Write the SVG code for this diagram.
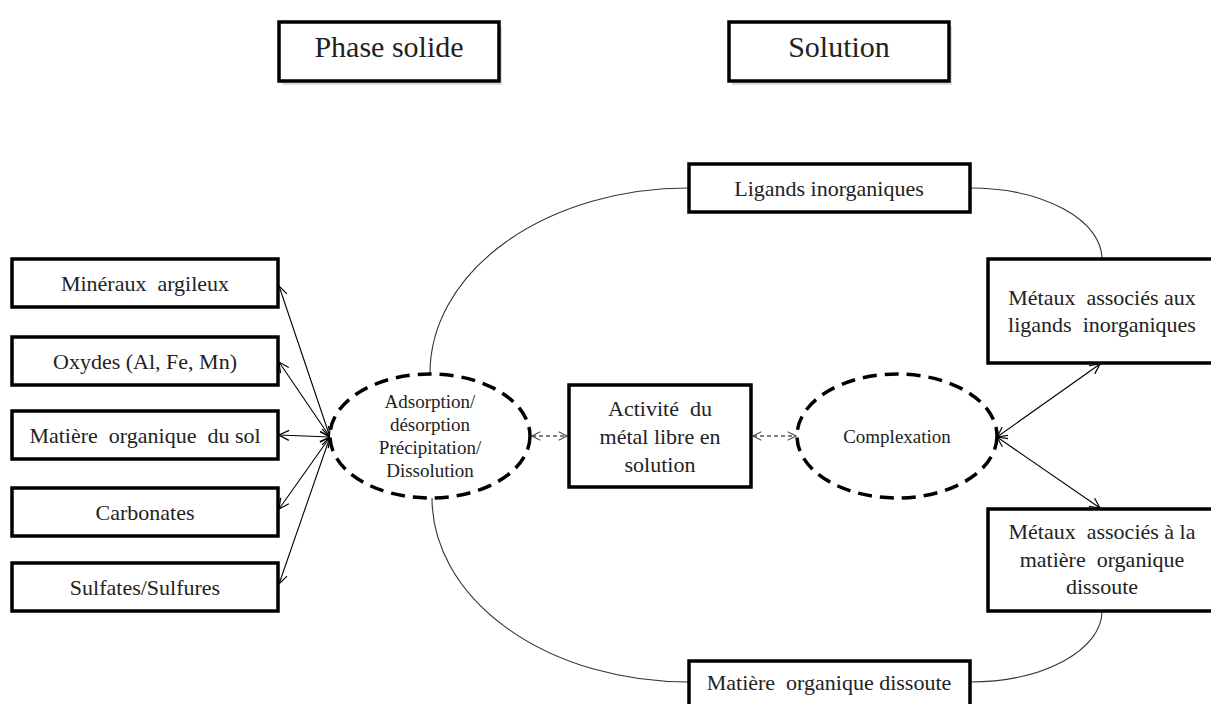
<svg xmlns="http://www.w3.org/2000/svg" width="1211" height="704" viewBox="0 0 1211 704">
<defs>
<style>
.box{fill:#fff;stroke:#000;stroke-width:3.5}
.shadow{fill:#bbb;opacity:0.5}
.ell{fill:#fff;stroke:#000;stroke-width:3.5;stroke-dasharray:14 8}
.t{font-family:"Liberation Serif","Times New Roman",serif;fill:#222;text-anchor:middle;white-space:pre}
.h{font-size:30px}
.b{font-size:22px}
.s{font-size:19px}
.link{fill:none;stroke:#000;stroke-width:1.1}
.curve{fill:none;stroke:#333;stroke-width:1.1}
.dash{fill:none;stroke:#555;stroke-width:1.3;stroke-dasharray:4 3}
</style>
<marker id="ah" viewBox="0 0 12 12" refX="11" refY="6" markerWidth="12" markerHeight="12" markerUnits="userSpaceOnUse" orient="auto-start-reverse">
<path d="M1,1 L11,6 L1,11" fill="none" stroke="#000" stroke-width="1.2"/>
</marker>
<marker id="ahg" viewBox="0 0 12 12" refX="11" refY="6" markerWidth="10" markerHeight="10" markerUnits="userSpaceOnUse" orient="auto-start-reverse">
<path d="M1,1 L11,6 L1,11" fill="none" stroke="#555" stroke-width="1.4"/>
</marker>
</defs>
<rect width="1211" height="704" fill="#fff"/>

<g id="connectors">
<path class="curve" d="M430,373 A258,185 0 0 1 688,188"/>
<path class="curve" d="M970,188 A132,71 0 0 1 1102,259"/>
<path class="curve" d="M432,498 A256,184 0 0 0 688,682"/>
<path class="curve" d="M1102,611 A132,71 0 0 1 970,682"/>
<line class="link" x1="330" y1="437" x2="279" y2="286" marker-start="url(#ah)" marker-end="url(#ah)"/>
<line class="link" x1="330" y1="437" x2="279" y2="362" marker-start="url(#ah)" marker-end="url(#ah)"/>
<line class="link" x1="330" y1="437" x2="279" y2="435" marker-start="url(#ah)" marker-end="url(#ah)"/>
<line class="link" x1="330" y1="437" x2="279" y2="509" marker-start="url(#ah)" marker-end="url(#ah)"/>
<line class="link" x1="330" y1="437" x2="279" y2="584" marker-start="url(#ah)" marker-end="url(#ah)"/>
<line class="link" x1="997" y1="437" x2="1100" y2="364" marker-start="url(#ah)" marker-end="url(#ah)"/>
<line class="link" x1="997" y1="437" x2="1100" y2="508" marker-start="url(#ah)" marker-end="url(#ah)"/>
<line class="dash" x1="532" y1="436" x2="567" y2="436" marker-start="url(#ahg)" marker-end="url(#ahg)"/>
<line class="dash" x1="753" y1="436" x2="796" y2="436" marker-start="url(#ahg)" marker-end="url(#ahg)"/>
</g>

<g id="phase-solide">
<rect class="shadow" x="282" y="26" width="220" height="59"/>
<rect class="box" x="279" y="22" width="220" height="59"/>
<text class="t h" x="389" y="57">Phase solide</text>
</g>
<g id="solution">
<rect class="shadow" x="732" y="26" width="220" height="59"/>
<rect class="box" x="729" y="22" width="220" height="59"/>
<text class="t h" x="839" y="57">Solution</text>
</g>

<g id="mineraux">
<rect class="box" x="12" y="259" width="266" height="48"/>
<text class="t b" x="145" y="291">Minéraux  argileux</text>
</g>
<g id="oxydes">
<rect class="box" x="12" y="337" width="266" height="48"/>
<text class="t b" x="145" y="369">Oxydes (Al, Fe, Mn)</text>
</g>
<g id="mos">
<rect class="box" x="12" y="411" width="266" height="48"/>
<text class="t b" x="145" y="443">Matière  organique  du sol</text>
</g>
<g id="carbonates">
<rect class="box" x="12" y="488" width="266" height="48"/>
<text class="t b" x="145" y="520">Carbonates</text>
</g>
<g id="sulfates">
<rect class="box" x="12" y="563" width="266" height="48"/>
<text class="t b" x="145" y="595">Sulfates/Sulfures</text>
</g>

<g id="adsorption">
<ellipse class="ell" cx="430" cy="436" rx="100" ry="62"/>
<text class="t s" x="430" y="408">Adsorption/</text>
<text class="t s" x="430" y="431">désorption</text>
<text class="t s" x="430" y="454">Précipitation/</text>
<text class="t s" x="430" y="477">Dissolution</text>
</g>

<g id="activite">
<rect class="box" x="569" y="385" width="182" height="102"/>
<text class="t b" x="660" y="416">Activité  du</text>
<text class="t b" x="660" y="444">métal libre en</text>
<text class="t b" x="660" y="472">solution</text>
</g>

<g id="complexation">
<ellipse class="ell" cx="897" cy="436" rx="100" ry="62"/>
<text class="t s" x="897" y="443">Complexation</text>
</g>

<g id="ligands">
<rect class="box" x="689" y="164" width="281" height="48"/>
<text class="t b" x="829" y="196">Ligands inorganiques</text>
</g>

<g id="metaux-ligands">
<rect class="box" x="988" y="259" width="230" height="104"/>
<text class="t b" x="1102" y="305">Métaux  associés aux</text>
<text class="t b" x="1102" y="332">ligands  inorganiques</text>
</g>

<g id="metaux-mo">
<rect class="box" x="988" y="509" width="230" height="102"/>
<text class="t b" x="1102" y="539">Métaux  associés à la</text>
<text class="t b" x="1102" y="567">matière  organique</text>
<text class="t b" x="1102" y="594">dissoute</text>
</g>

<g id="mod">
<rect class="box" x="689" y="661" width="281" height="60"/>
<text class="t b" x="829" y="690">Matière  organique dissoute</text>
</g>
</svg>
